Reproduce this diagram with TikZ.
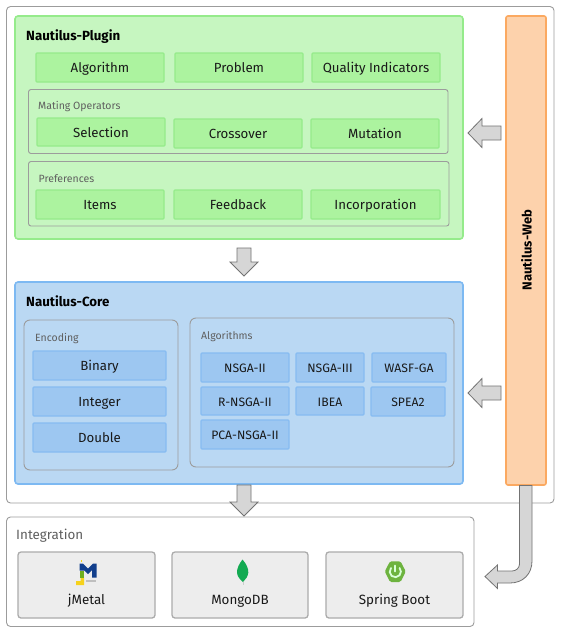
\documentclass[tikz,border=0pt]{standalone}
\usepackage{fontspec}
\setmainfont{Fira Sans}
\definecolor{gfill}{HTML}{C6F6C0}
\definecolor{gline}{HTML}{95EB8B}
\definecolor{gbox}{HTML}{ACF39F}
\definecolor{bfill}{HTML}{BAD8F3}
\definecolor{bline}{HTML}{7DB9F2}
\definecolor{bbox}{HTML}{9DC7F1}
\definecolor{bboxl}{HTML}{87BCF1}
\definecolor{ofill}{HTML}{FDD2AC}
\definecolor{oline}{HTML}{FBA961}
\definecolor{frame}{HTML}{9C9C9C}
\definecolor{lab}{HTML}{5F5F5F}
\definecolor{jblue}{HTML}{123F8C}
\definecolor{jgreen}{HTML}{6FAE1E}
\definecolor{jyellow}{HTML}{F6D21C}
\definecolor{leaf}{HTML}{13AA52}
\definecolor{spring}{HTML}{6DB33F}
\tikzset{
  x=1pt,y=-1pt,
  pane/.style={draw=frame,line width=.9pt,rounded corners=4pt},
  greenmain/.style={draw=gline,fill=gfill,line width=1.6pt,rounded corners=3pt},
  bluemain/.style={draw=bline,fill=bfill,line width=1.6pt,rounded corners=3pt},
  webmain/.style={draw=oline,fill=ofill,line width=1.6pt,rounded corners=2pt},
  gitem/.style={draw=gline,fill=gbox,line width=1.3pt,rounded corners=1pt},
  bitem/.style={draw=bboxl,fill=bbox,line width=1.3pt,rounded corners=1pt},
  gray item/.style={draw=frame!85,fill=black!7,line width=1.3pt,rounded corners=3pt},
  blockarrow/.style={draw=black!55,fill=black!16,line width=.8pt,line join=miter},
  boxtext/.style={text height=13pt,text depth=3pt,inner sep=0pt,text=black!90},
  itemtxt/.style={boxtext,font=\fontsize{13.25}{15}\selectfont},
  smalltxt/.style={boxtext,font=\fontsize{13.4}{15}\selectfont},
  algtxt/.style={boxtext,font=\fontsize{12.2}{14}\selectfont},
  captxt/.style={font=\fontsize{10.5}{12}\selectfont,text=lab,anchor=west,inner sep=0pt},
  titletxt/.style={font=\fontsize{13.3}{15}\selectfont\bfseries,text=black,anchor=west,inner sep=0pt},
}
\begin{document}
\begin{tikzpicture}
\useasboundingbox (0,0) rectangle (560,632);
\fill[white] (0,0) rectangle (560,632);
% outer frames
\draw[pane] (6.5,6.5) rectangle (554,503);
\draw[pane] (6.5,517) rectangle (474,626.5);
% plugin
\draw[greenmain] (15,16) rectangle (463,239);
\node[titletxt] (pluginT) at (26,36.5) {Nautilus-Plugin};
\foreach \n/\a/\b/\c/\d/\t in {alg/36/53/164/82/Algorithm,prob/175/53/303/82/Problem,qual/312/53/440/82/Quality Indicators}{
  \draw[gitem] (\a,\b) rectangle (\c,\d);
  \node[itemtxt] (\n) at ({(\a+\c)/2},{(\b+\d)/2}) {\t};
}
\draw[pane,rounded corners=2.5pt] (28.5,89.5) rectangle (448,153.5);
\node[captxt] (mating) at (38,106.5) {Mating Operators};
\foreach \n/\a/\b/\c/\d/\t in {sel/37/118/165/146/Selection,cross/174/119/302/148/Crossover,mut/311/119/439/148/Mutation,items/36/190/164/219/Items,feed/174/190/302/219/Feedback,inc/311/190/440/219/Incorporation}{
  \draw[gitem] (\a,\b) rectangle (\c,\d);
  \node[itemtxt] (\n) at ({(\a+\c)/2},{(\b+\d)/2}) {\t};
}
\draw[pane,rounded corners=2.5pt] (28.5,161.5) rectangle (449,226);
\node[captxt] (pref) at (38.5,179) {Preferences};
% core
\draw[bluemain] (15,282) rectangle (463,484);
\node[titletxt] (coreT) at (26,301) {Nautilus-Core};
\draw[pane,rounded corners=6pt] (24,320) rectangle (178,470);
\node[captxt] (enc) at (35,338.5) {Encoding};
\foreach \n/\a/\b/\c/\d/\t in {bin/33/351/166/380/Binary,int/33/387/166/416/Integer,dbl/33/423/166/452/Double}{
  \draw[bitem] (\a,\b) rectangle (\c,\d);
  \node[itemtxt] (\n) at ({(\a+\c)/2},{(\b+\d)/2}) {\t};
}
\draw[pane,rounded corners=6pt] (190,318) rectangle (454,467);
\node[captxt] (algs) at (201,336.5) {Algorithms};
\foreach \n/\a/\b/\c/\d/\t in {n2/201/353/289/382/NSGA-II,n3/296/353/364/382/NSGA-III,wasf/372/353/446/382/WASF-GA,rn/201/387/289/415/R-NSGA-II,ibea/296/387/364/415/IBEA,spea/371/387/445/416/SPEA2,pca/201/420/289/449/PCA-NSGA-II}{
  \draw[bitem] (\a,\b) rectangle (\c,\d);
  \node[algtxt] (\n) at ({(\a+\c)/2},{(\b+\d)/2}) {\t};
}
% web
\draw[webmain] (506,16) rectangle (546,485);
\node[font=\fontsize{13}{15}\selectfont\bfseries,rotate=90] (webT) at (526.5,250) {Nautilus-Web};
% integration
\node[font=\fontsize{13.4}{15}\selectfont,text=lab,anchor=west,inner sep=0pt] (integ) at (16,536) {Integration};
\foreach \n/\a/\b/\c/\d/\t in {jm/18/552/155/618/jMetal,mg/172/552/308/618/MongoDB,sb/326/552/463/618/Spring Boot}{
  \draw[gray item] (\a,\b) rectangle (\c,\d);
  \node[smalltxt] (\n) at ({(\a+\c)/2},599.5) {\t};
}
% arrows
\coordinate (a1) at (468,133);
\coordinate (a2) at (468,393);
\coordinate (a3) at (244,276);
\coordinate (a4) at (244,516);
\coordinate (a5) at (485,576.5);
\foreach \p in {a1,a2}{
  \draw[blockarrow] (\p) -- ++(14,-14.5) -- ++(0,7.5) -- ++(19,0) -- ++(0,14) -- ++(-19,0) -- ++(0,7.5) -- cycle;
}
\draw[blockarrow] (a3) -- ++(-14,-14) -- ++(7,0) -- ++(0,-14) -- ++(14,0) -- ++(0,14) -- ++(7,0) -- cycle;
\draw[blockarrow] (a4) -- ++(-14,-14) -- ++(7,0) -- ++(0,-17) -- ++(14,0) -- ++(0,17) -- ++(7,0) -- cycle;
\draw[blockarrow] (a5) -- (497.5,565) -- (497.5,571) -- (512,571) .. controls (516,571) and (519.5,568) .. (519.5,564) -- (519.5,485.5) -- (532,485.5) -- (532,561) .. controls (532,574) and (523,583) .. (510,583) -- (497.5,583) -- (497.5,588.5) -- cycle;
% jMetal logo
\fill[jyellow] (76,581) -- (80.5,581) -- (80.5,577.5) -- (84,577.5) -- (84,585) -- (76,585) -- cycle;
\fill[jyellow] (80.5,560) rectangle (82,561.5);
\fill[jgreen] (80,570.5) rectangle (84,577.5);
\fill[jblue] (79.5,563.5) -- (83,563.5) -- (88,568.5) -- (93,563.5) -- (96.5,563.5) -- (96.5,577.5) -- (92,577.5) -- (92,570) -- (88,574) -- (84,570) -- (84,570.5) -- (79.5,570.5) -- cycle;
\fill[black!25] (86,579.5) rectangle (96,581.5);
% MongoDB logo
\fill[leaf] (242.5,559.5) .. controls (246.5,564) and (248.5,568.5) .. (248.3,572.5) .. controls (248,576.5) and (245.5,579.5) .. (243,582) .. controls (240,579.5) and (237.2,576.5) .. (237,572.5) .. controls (236.8,568.5) and (239,564) .. (242.5,559.5) -- cycle;
\draw[black!20,line width=.6pt] (243,582) -- (243,585);
% Spring logo
\fill[spring,rounded corners=1.5pt] (384.8,571.5) -- (390,561.3) -- (400.5,561.3) -- (405.8,571.5) -- (400.5,582) -- (390,582) -- cycle;
\draw[white!85!green,line width=1.8pt,line cap=round] (395.3,565.5) -- (395.3,571.5);
\draw[white!85!green,line width=1.8pt,line cap=round] (391,568) arc[start angle=220,end angle=-40,radius=5.6];
\end{tikzpicture}
\end{document}
